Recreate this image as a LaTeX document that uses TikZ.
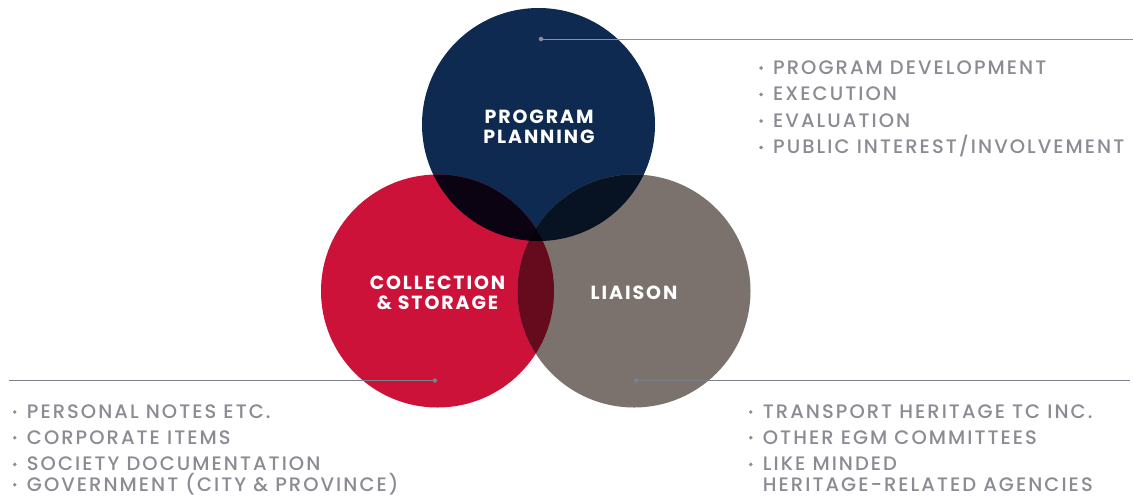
\documentclass[tikz,border=0pt]{standalone}
\usepackage{fontspec}
\setmainfont{Poppins}
\newfontfamily\listfont[LetterSpace=10.5]{Poppins Medium}
\newfontfamily\labfont[LetterSpace=10]{Poppins}
\definecolor{navy}{HTML}{0E2A50}
\definecolor{crimson}{HTML}{CC1239}
\definecolor{taupe}{HTML}{7B716D}
\definecolor{rn}{HTML}{0B0312}
\definecolor{ng}{HTML}{071322}
\definecolor{rg}{HTML}{660A1D}
\definecolor{trip}{HTML}{070209}
\definecolor{txtgrey}{HTML}{8A8B93}
\definecolor{linegrey}{HTML}{8E8F96}
\definecolor{linegrey2}{HTML}{7C808C}
\newcommand\blt{\makebox[14pt][l]{\tikz[baseline=0pt]\fill[txtgrey] (2pt,6.3pt) circle[radius=1.9pt];}}
\tikzset{
  lab/.style={text=white, font=\labfont\bfseries\fontsize{19}{21}\selectfont, align=center, inner sep=0pt},
  item/.style={text=txtgrey, font=\listfont\fontsize{19.5}{21}\selectfont, anchor=base west, inner sep=0pt},
  dotmark/.style={circle, fill=linegrey, inner sep=0pt, minimum size=4.5pt},
  conn/.style={draw=linegrey, line width=1pt}
}
\begin{document}
\begin{tikzpicture}[x=1pt,y=-1pt]
\useasboundingbox (0,0) rectangle (1133,496);
\fill[white] (0,0) rectangle (1133,496);
\def\R{116.5pt}
\coordinate (cP) at (538.5,124.5);
\coordinate (cC) at (437.5,291);
\coordinate (cL) at (634,291);
% circles
\fill[navy] (cP) circle[radius=\R];
\fill[crimson] (cC) circle[radius=\R];
\fill[taupe] (cL) circle[radius=\R];
\begin{scope}
  \clip (cC) circle[radius=\R];
  \fill[rg] (cL) circle[radius=\R];
\end{scope}
\begin{scope}
  \clip (cP) circle[radius=\R];
  \fill[rn] (cC) circle[radius=\R];
  \fill[ng] (cL) circle[radius=\R];
  \clip (cC) circle[radius=\R];
  \fill[trip] (cL) circle[radius=\R];
\end{scope}
% labels
\node[lab, anchor=base] (lP1) at (539,123.3) {PROGRAM};
\node[lab, anchor=base] (lP2) at (539,143.5) {PLANNING};
\node[lab, anchor=base] (lC1) at (437.5,289) {COLLECTION};
\node[lab, anchor=base] (lC2) at (437.5,309.3) {\&~STORAGE};
\node[lab, anchor=base] (lL) at (634,299.3) {LIAISON};
% connectors
\node[dotmark] (dP) at (541,39) {};
\coordinate (eP) at (1133,39);
\draw[conn] (dP.center) -- (eP);
\node[dotmark, fill=linegrey2] (dC) at (435,380.5) {};
\coordinate (eC) at (9,380.5);
\draw[conn, draw=linegrey2] (dC.center) -- (eC);
\node[dotmark, fill=linegrey2] (dL) at (636,380.5) {};
\coordinate (eL) at (1130,380.5);
\draw[conn, draw=linegrey2] (dL.center) -- (eL);
% top-right list
\node[item] (p1) at (759,74.3) {\blt PROGRAM DEVELOPMENT};
\node[item] (p2) at (759,100.8) {\blt EXECUTION};
\node[item] (p3) at (759,127.3) {\blt EVALUATION};
\node[item] (p4) at (759,153.8) {\blt PUBLIC INTEREST/INVOLVEMENT};
% bottom-left list
\node[item] (c1) at (12.7,418.3) {\blt PERSONAL NOTES ETC.};
\node[item] (c2) at (12.7,444) {\blt CORPORATE ITEMS};
\node[item] (c3) at (12.7,470.7) {\blt SOCIETY DOCUMENTATION};
\node[item] (c4) at (12.7,491) {\blt GOVERNMENT (CITY \& PROVINCE)};
% bottom-right list
\node[item] (l1) at (748.7,418.3) {\blt TRANSPORT HERITAGE TC INC.};
\node[item] (l2) at (748.7,444) {\blt OTHER EGM COMMITTEES};
\node[item] (l3) at (748.7,470.7) {\blt LIKE MINDED};
\node[item] (l4) at (762.7,491) {HERITAGE-RELATED AGENCIES};
\end{tikzpicture}
\end{document}
